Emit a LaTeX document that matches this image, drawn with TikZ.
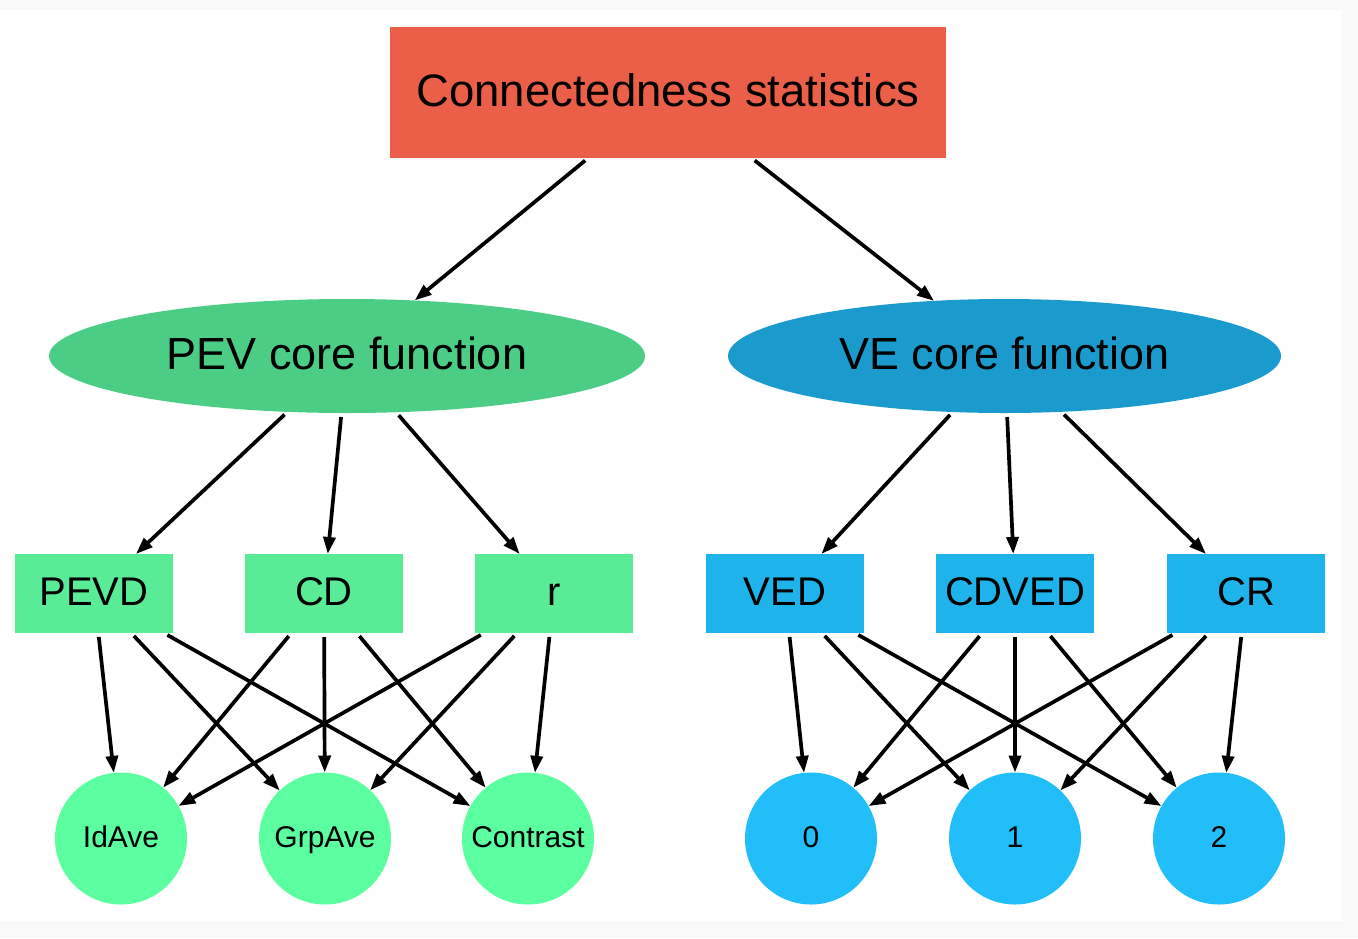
\documentclass[tikz,border=0pt]{standalone}
\usepackage{fontspec}
\setmainfont{Liberation Sans}
\usetikzlibrary{shapes.geometric,arrows.meta}
\definecolor{bgout}{HTML}{F9F9F9}
\definecolor{topc}{HTML}{EB5E48}
\definecolor{pevell}{HTML}{4CCD85}
\definecolor{pevbox}{HTML}{5AEB97}
\definecolor{pevcirc}{HTML}{5CFFA0}
\definecolor{veell}{HTML}{1B9BCD}
\definecolor{vebox}{HTML}{1FB3EC}
\definecolor{vecirc}{HTML}{22BEFA}
\tikzset{
  every node/.style={outer sep=0pt, inner sep=0pt, text=black},
  topbox/.style={rectangle, fill=topc, minimum width=556pt, minimum height=131pt, font=\fontsize{45.5}{50}\selectfont, text height=36pt, text depth=9pt},
  coreell/.style={ellipse, minimum height=114pt, font=\fontsize{45}{50}\selectfont, text height=36pt, text depth=9pt},
  leafbox/.style={rectangle, minimum width=158pt, minimum height=79pt, font=\fontsize{40}{46}\selectfont, text height=32pt, text depth=8pt},
  outcirc/.style={circle, minimum size=132pt, font=\fontsize{30}{34}\selectfont, text height=24pt, text depth=6pt},
  edge/.style={line width=3.7pt, shorten <=4pt, -{Triangle[length=17pt,width=12pt]}}
}
\begin{document}
\begin{tikzpicture}[x=1pt,y=-1pt]
\fill[bgout] (0,0) rectangle (1358,938);
\fill[white] (0,10) rectangle (1342,921);
\useasboundingbox (0,0) rectangle (1358,938);

\node[topbox] (top) at (668,92.5) {Connectedness statistics};

\node[coreell, fill=pevell, minimum width=596pt] (pev) at (347,356) {PEV core function};
\node[coreell, fill=veell, minimum width=553pt] (ve) at (1004.5,356) {VE core function};

\node[leafbox, fill=pevbox] (pevd) at (94,593.5) {PEVD};
\node[leafbox, fill=pevbox] (cd) at (324,593.5) {CD};
\node[leafbox, fill=pevbox] (r) at (554,593.5) {r};
\node[leafbox, fill=vebox] (ved) at (785,593.5) {VED};
\node[leafbox, fill=vebox] (cdved) at (1015,593.5) {CDVED};
\node[leafbox, fill=vebox] (cr) at (1246,593.5) {CR};

\node[outcirc, fill=pevcirc] (idave) at (121,838.5) {IdAve};
\node[outcirc, fill=pevcirc] (grpave) at (325,838.5) {GrpAve};
\node[outcirc, fill=pevcirc] (contrast) at (528,838.5) {Contrast};
\node[outcirc, fill=vecirc] (c0) at (811,838.5) {0};
\node[outcirc, fill=vecirc] (c1) at (1015,838.5) {1};
\node[outcirc, fill=vecirc] (c2) at (1219,838.5) {2};

\draw[edge] (top) -- (pev);
\draw[edge] (top) -- (ve);

\foreach \t in {pevd,cd,r} \draw[edge] (pev) -- (\t);
\foreach \t in {ved,cdved,cr} \draw[edge] (ve) -- (\t);

\foreach \s in {pevd,cd,r}
  \foreach \t in {idave,grpave,contrast}
    \draw[edge] (\s) -- (\t);
\foreach \s in {ved,cdved,cr}
  \foreach \t in {c0,c1,c2}
    \draw[edge] (\s) -- (\t);
\end{tikzpicture}
\end{document}
